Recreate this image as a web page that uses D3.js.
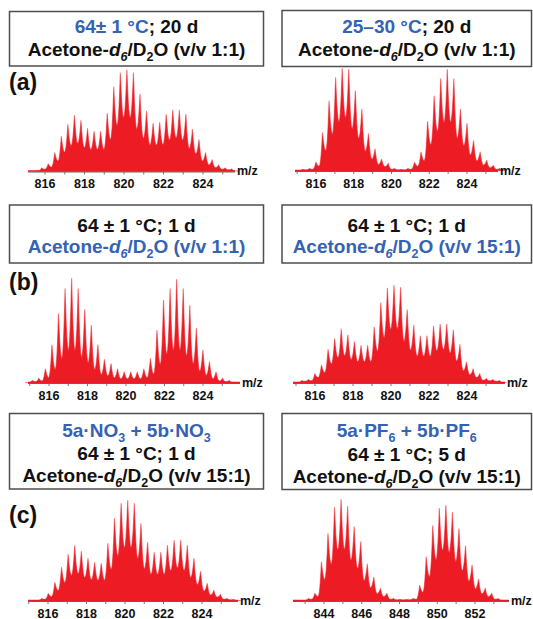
<!DOCTYPE html>
<html>
<head>
<meta charset="utf-8">
<script src="https://cdn.jsdelivr.net/npm/d3@7/dist/d3.min.js"></script>
<style>
  html, body { margin: 0; padding: 0; background: #fff; }
  svg { display: block; font-family: "Liberation Sans", Arial, sans-serif; }
</style>
</head>
<body>
<svg id="chart" width="533" height="619"></svg>
<script>
// ---- data ----
// tick labels
var ticksLow = [816, 818, 820, 822, 824];
var ticksHigh = [844, 846, 848, 850, 852];

// isotope peak heights (% of tallest peak), left to right
var peaksA1 = [3, 7, 18, 34, 46, 55, 50, 42, 39, 39, 57, 83, 97, 100, 97, 76, 59, 47, 48, 56, 60, 60, 56, 41, 31, 18, 11, 6, 3, 2];
var peaksA2 = [1, 2, 8, 37, 68, 91, 100, 99, 78, 60, 36, 21, 11, 7, 2, 1, 2, 8, 18, 48, 73, 90, 99, 90, 60, 46, 29, 18, 10, 5, 2];
var peaksB1 = [2, 4, 13, 36, 66, 90, 100, 90, 70, 55, 36, 22, 18, 13, 10, 10, 10, 13, 23, 50, 79, 90, 99, 90, 74, 52, 31, 20, 10, 4, 2];
var peaksB2 = [2, 3, 9, 18, 34, 45, 55, 49, 42, 38, 38, 57, 82, 97, 100, 98, 75, 59, 48, 48, 58, 60, 60, 54, 39, 21, 14, 9, 4, 3, 2];
var peaksC1 = [2, 7, 18, 33, 46, 55, 49, 42, 38, 37, 57, 82, 97, 100, 97, 77, 58, 48, 48, 55, 60, 60, 55, 42, 29, 17, 10, 6, 2, 1];
var peaksC2 = [2, 7, 38, 66, 92, 100, 93, 73, 58, 36, 23, 12, 7, 2, 1, 1, 2, 15, 43, 74, 91, 94, 87, 71, 54, 35, 21, 12, 7, 2];

// m/z of the first peak and peak spacing, per panel (a1, a2, b1, b2, c1, c2)
var firstMz = [815.83, 815.30, 815.13, 815.30, 815.67, 843.17];
var peakStep = [0.332, 0.348, 0.341, 0.347, 0.344, 0.347];

// ---- layout ----
var RED = '#ed1c24', BLUE = '#3462b4', INK = '#111';

var panels = [
  { peaks: peaksA1, ticks: ticksLow, tx: [45, 203], ax: [28, 235], base: 171, h: 101, valley: 0.54 },
  { peaks: peaksA2, ticks: ticksLow, tx: [316, 467], ax: [295, 498], base: 170.5, h: 102, valley: 0.52 },
  { peaks: peaksB1, ticks: ticksLow, tx: [49, 203], ax: [28, 240], base: 382.5, h: 104, valley: 0.34 },
  { peaks: peaksB2, ticks: ticksLow, tx: [315, 467], ax: [293, 505], base: 382.5, h: 97, valley: 0.56 },
  { peaks: peaksC1, ticks: ticksLow, tx: [48, 202], ax: [28, 238], base: 600.5, h: 100, valley: 0.54 },
  { peaks: peaksC2, ticks: ticksHigh, tx: [324, 475], ax: [293, 509], base: 600.5, h: 101, valley: 0.54 }
];

// box captions: segments [text, flags] with b = blue, i = italic, s = subscript
var solvent11 = [['Acetone-'], ['d', 'i'], ['6', 'is'], ['/D'], ['2', 's'], ['O (v/v 1:1)']];
var solvent15 = [['Acetone-'], ['d', 'i'], ['6', 'is'], ['/D'], ['2', 's'], ['O (v/v 15:1)']];
function tint(line) {
  return line.map(function (s) { return [s[0], (s[1] || '') + 'b']; });
}

var boxes = [
  { x: 9.5, y: 11.5, w: 254, h: 54.5, lines: [[['64\u00b1 1 \u00b0C', 'b'], ['; 20 d']], solvent11], base: [33, 56] },
  { x: 282, y: 10.5, w: 249.5, h: 56, lines: [[['25\u201330 \u00b0C', 'b'], ['; 20 d']], solvent11], base: [33, 55.5] },
  { x: 9.5, y: 205, w: 254, h: 58, lines: [[['64 \u00b1 1 \u00b0C; 1 d']], tint(solvent11)], base: [231.5, 253] },
  { x: 282, y: 205, w: 249.5, h: 58, lines: [[['64 \u00b1 1 \u00b0C; 1 d']], tint(solvent15)], base: [231.5, 253] },
  { x: 9.5, y: 413.5, w: 254, h: 75.5,
    lines: [[['5a\u00b7NO', 'b'], ['3', 'bs'], [' + 5b\u00b7NO', 'b'], ['3', 'bs']], [['64 \u00b1 1 \u00b0C; 1 d']], solvent15],
    base: [436.5, 460, 482] },
  { x: 282, y: 413.5, w: 249.5, h: 76,
    lines: [[['5a\u00b7PF', 'b'], ['6', 'bs'], [' + 5b\u00b7PF', 'b'], ['6', 'bs']], [['64 \u00b1 1 \u00b0C; 5 d']], solvent15],
    base: [436.5, 461, 483] }
];

var panelLabels = [['(a)', 90], ['(b)', 290], ['(c)', 523]];

var svg = d3.select('#chart');

//-------------------------------
// caption boxes
boxes.forEach(function (b) {
  svg.append('rect')
    .attr('x', b.x).attr('y', b.y)
    .attr('width', b.w).attr('height', b.h)
    .attr('fill', 'none')
    .attr('stroke', '#4d4d4d')
    .attr('stroke-width', 1.5);

  b.lines.forEach(function (line, li) {
    var t = svg.append('text')
      .attr('x', b.x + b.w / 2)
      .attr('y', b.base[li])
      .attr('text-anchor', 'middle')
      .attr('font-size', 19)
      .attr('font-weight', 'bold')
      .attr('fill', INK);
    var shift = 0;
    line.forEach(function (seg) {
      var f = seg[1] || '';
      var want = f.indexOf('s') >= 0 ? 5 : 0;
      var sp = t.append('tspan')
        .text(seg[0])
        .attr('dy', want - shift)
        .attr('fill', f.indexOf('b') >= 0 ? BLUE : INK);
      if (f.indexOf('i') >= 0) sp.attr('font-style', 'italic');
      if (want) sp.attr('font-size', 12.5);
      shift = want;
    });
  });
});

// panel letters
svg.selectAll('text.plabel')
  .data(panelLabels)
  .enter().append('text')
  .attr('class', 'plabel')
  .attr('x', 9)
  .attr('y', function (d) { return d[1]; })
  .attr('font-size', 23)
  .attr('font-weight', 'bold')
  .attr('fill', INK)
  .text(function (d) { return d[0]; });

//-------------------------------
// spectra
// each peak is a spike sitting on the overlap with its neighbours
var flank = [1, 0.75, 0.55, 0.4, 0.27, 0.16, 0.07, 0];

function profile(h, start, step, ratio) {
  var pts = [{ mz: start - step, v: 0 }];
  h.forEach(function (hi, i) {
    var mz = start + i * step;
    var vl = i > 0 ? ratio * Math.min(h[i - 1], hi) : 0;
    var vr = i < h.length - 1 ? ratio * Math.min(hi, h[i + 1]) : 0;
    flank.forEach(function (t) {
      pts.push({ mz: mz - t * step / 2, v: vl + (hi - vl) * Math.pow(1 - t, 2) });
    });
    flank.slice().reverse().slice(1).forEach(function (t) {
      pts.push({ mz: mz + t * step / 2, v: vr + (hi - vr) * Math.pow(1 - t, 2) });
    });
  });
  pts.push({ mz: start + h.length * step, v: 0 });
  return pts;
}

panels.forEach(function (p, k) {
  var t0 = p.ticks[0], t1 = p.ticks[p.ticks.length - 1];
  var x = d3.scaleLinear().domain([t0, t1]).range(p.tx);
  var y = d3.scaleLinear().domain([0, 100]).range([p.base, p.base - p.h]);
  var g = svg.append('g');

  // axis line and unit ticks
  g.append('line')
    .attr('x1', p.ax[0]).attr('x2', p.ax[1])
    .attr('y1', p.base + 1).attr('y2', p.base + 1)
    .attr('stroke', '#666').attr('stroke-width', 1);
  var units = d3.range(Math.ceil(x.invert(p.ax[0])), x.invert(p.ax[1]), 1);
  g.selectAll('line.unit')
    .data(units)
    .enter().append('line')
    .attr('class', 'unit')
    .attr('x1', function (d) { return x(d); })
    .attr('x2', function (d) { return x(d); })
    .attr('y1', p.base + 1).attr('y2', p.base + 3.5)
    .attr('stroke', '#777').attr('stroke-width', 1);

  // red baseline
  g.append('line')
    .attr('x1', p.ax[0]).attr('x2', p.ax[1])
    .attr('y1', p.base).attr('y2', p.base)
    .attr('stroke', RED).attr('stroke-width', 1.5);

  var area = d3.area()
    .x(function (d) { return x(d.mz); })
    .y0(y(0))
    .y1(function (d) { return y(d.v); });

  g.append('path')
    .datum(profile(p.peaks, firstMz[k], peakStep[k], p.valley))
    .attr('d', area)
    .attr('fill', RED)
    .attr('stroke', RED)
    .attr('stroke-opacity', 0.6)
    .attr('stroke-width', 1.1)
    .attr('stroke-linejoin', 'round');

  // tick labels
  g.selectAll('text.tick')
    .data(p.ticks)
    .enter().append('text')
    .attr('class', 'tick')
    .attr('x', function (d) { return x(d); })
    .attr('y', p.base + 17)
    .attr('text-anchor', 'middle')
    .attr('font-size', 12.5)
    .attr('font-weight', 'bold')
    .attr('fill', INK)
    .text(function (d) { return d; });

  g.append('text')
    .attr('x', p.ax[1] + 2)
    .attr('y', p.base + 4)
    .attr('font-size', 12.5)
    .attr('font-weight', 'bold')
    .attr('fill', INK)
    .text('m/z');
});
</script>
</body>
</html>
